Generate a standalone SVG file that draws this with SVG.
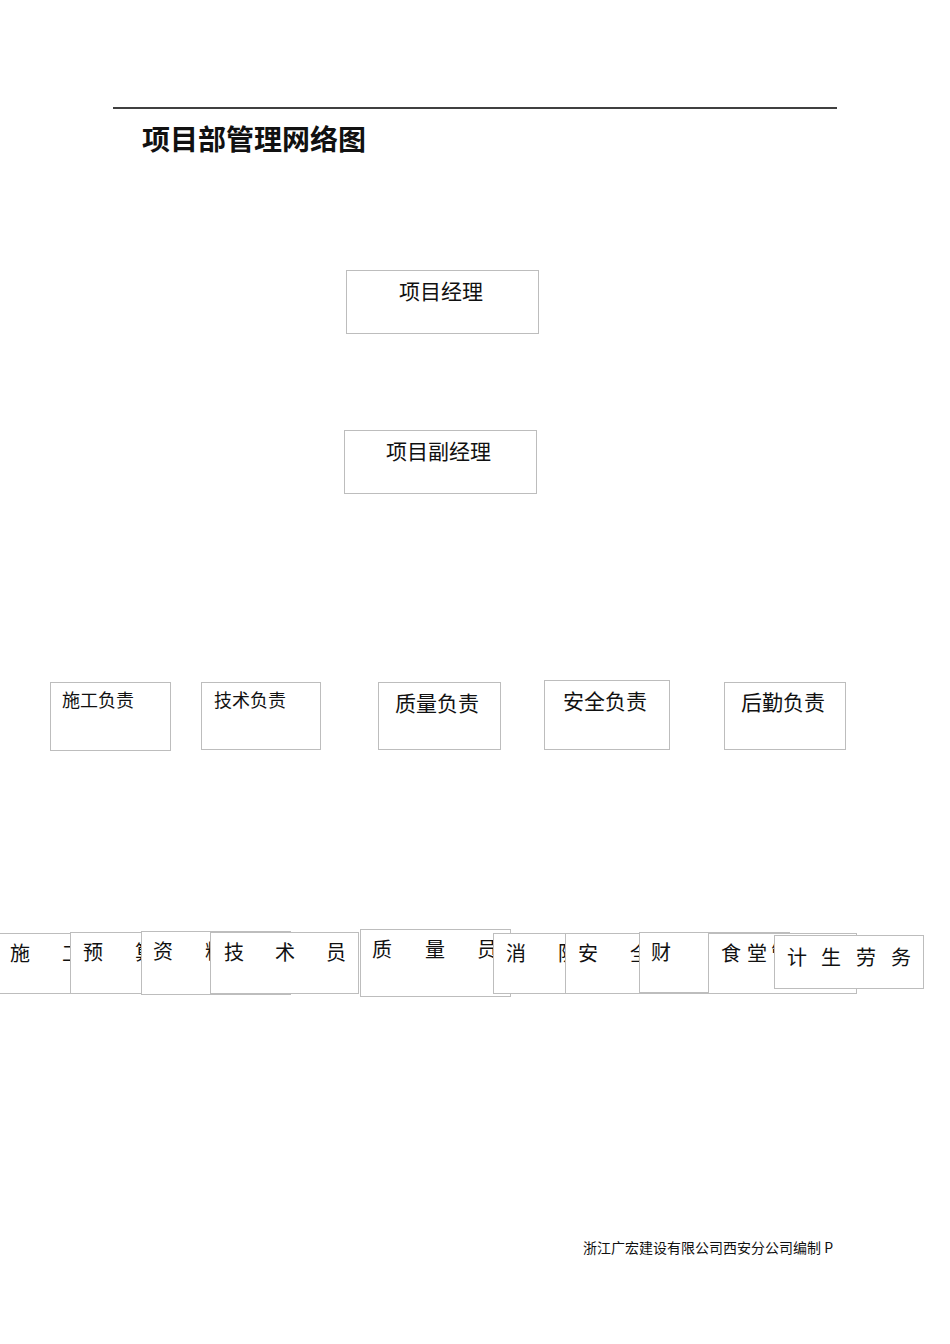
<svg xmlns="http://www.w3.org/2000/svg" width="950" height="1344" viewBox="0 0 950 1344">
<style>
text{font-family:"Noto Sans CJK SC","Noto Sans CJK JP",sans-serif;fill:#111}
.b{fill:#fff;stroke:#bdbdbd;stroke-width:1}
.t22{font-size:21px}
.t18{font-size:18px}
.t20{font-size:20px}
</style>
<rect width="950" height="1344" fill="#fff"/>
<line x1="113" y1="108" x2="837" y2="108" stroke="#000" stroke-width="1.5"/>
<text x="142" y="150" style="font-size:28px;font-weight:bold">项目部管理网络图</text>

<g id="pm"><rect class="b" x="346.5" y="270.5" width="192" height="63"/><text class="t22" x="399" y="299">项目经理</text></g>
<g id="dpm"><rect class="b" x="344.5" y="430.5" width="192" height="63"/><text class="t22" x="386" y="459">项目副经理</text></g>

<g id="sg"><rect class="b" x="50.5" y="682.5" width="120" height="68"/><text class="t18" x="62" y="707">施工负责</text></g>
<g id="js"><rect class="b" x="201.5" y="682.5" width="119" height="67"/><text class="t18" x="214" y="707">技术负责</text></g>
<g id="zl"><rect class="b" x="378.5" y="682.5" width="122" height="67"/><text class="t22" x="395" y="711">质量负责</text></g>
<g id="aq"><rect class="b" x="544.5" y="680.5" width="125" height="69"/><text class="t22" x="563" y="709">安全负责</text></g>
<g id="hq"><rect class="b" x="724.5" y="682.5" width="121" height="67"/><text class="t22" x="741" y="710">后勤负责</text></g>

<g id="sgy"><rect class="b" x="-10" y="933.5" width="160" height="60"/><text class="t20" x="10 62 114" y="961">施工员</text></g>
<g id="ysy"><rect class="b" x="70.5" y="932.5" width="150" height="61"/><text class="t20" x="83 135 187" y="960">预算员</text></g>
<g id="zly"><rect class="b" x="141.5" y="931.5" width="149" height="63"/><text class="t20" x="153 205 257" y="959">资料员</text></g>
<g id="jsy"><rect class="b" x="210.5" y="932.5" width="148" height="61"/><text class="t20" x="224 275 326" y="960">技术员</text></g>
<g id="zly2"><rect class="b" x="360.5" y="929.5" width="150" height="67"/><text class="t20" x="372 425 477" y="957">质量员</text></g>
<g id="xfy"><rect class="b" x="493.5" y="933.5" width="150" height="60"/><text class="t20" x="506 558 610" y="961">消防员</text></g>
<g id="aqy"><rect class="b" x="565.5" y="933.5" width="150" height="60"/><text class="t20" x="578 630 682" y="961">安全员</text></g>
<g id="cwy"><rect class="b" x="639.5" y="932.5" width="150" height="60"/><text class="t20" x="651 715" y="960">财务</text></g>
<g id="st"><rect class="b" x="708.5" y="933.5" width="148" height="60"/><text class="t20" x="721 747 771 797" y="961">食堂管理</text></g>
<g id="jslw"><rect class="b" x="774.5" y="935.5" width="149" height="53"/><text class="t20" x="787 821 856 891" y="965">计生劳务</text></g>

<g id="connectors"></g>

<text x="583" y="1253" style="font-size:14px">浙江广宏建设有限公司西安分公司编制 P</text>
</svg>
